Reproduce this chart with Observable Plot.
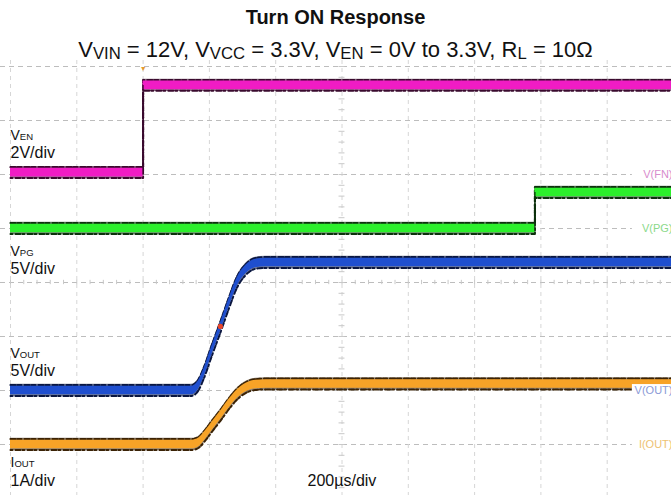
<!DOCTYPE html>
<html><head><meta charset="utf-8">
<script src="https://cdn.jsdelivr.net/npm/d3@7"></script>
<script src="https://cdn.jsdelivr.net/npm/@observablehq/plot@0.6"></script>
<style>
body{margin:0;background:#fff;font-family:"Liberation Sans",Arial,Helvetica,sans-serif;}
#wrap{position:relative;width:671px;height:495px;overflow:hidden;background:#fff;}
#title{position:absolute;z-index:2;left:0;top:7px;width:671px;text-align:center;font-weight:bold;font-size:20px;line-height:20px;color:#111;}
#sub{position:absolute;z-index:2;left:0;top:39px;width:671px;text-align:center;font-size:22px;line-height:21px;color:#111;white-space:nowrap;}
#sub span{font-size:0.76em;position:relative;top:0.14em;}
#chart{position:absolute;z-index:1;left:0;top:60px;}
</style></head>
<body><div id="wrap">
<div id="title">Turn ON Response</div>
<div id="sub">V<span>VIN</span> = 12V, V<span>VCC</span> = 3.3V, V<span>EN</span> = 0V to 3.3V, R<span>L</span> = 10Ω</div>
<div id="chart"></div>
</div>
<script>
// ---- data (time in µs relative to trigger; 200 µs/div) ----
const timeDomain = [-400, 1600];
const enTime = [-400, 0, 0, 1600];
const enVolt = [0.07, 0.07, 3.3, 3.3];
const pgTime = [-400, 1182, 1182, 1600];
const pgVolt = [0, 0, 3.33, 3.33];
const outTime = [-400, 146, 166, 184, 205, 234, 259, 283, 310, 339, 369, 1600];
const outVolt = [0, 0, 0.46, 1.67, 3.5, 5.93, 8.1, 10.0, 11.2, 11.76, 11.85, 11.85];
const ioutTime = [-400, 148, 168, 186, 207, 236, 261, 285, 312, 341, 371, 1600];
const ioutAmp = [0, 0, 0.04, 0.16, 0.33, 0.56, 0.77, 0.94, 1.06, 1.11, 1.12, 1.12];
const markerTime = [233];
const markerVolt = [5.93];
const channelTags = ["V(FN)", "V(PG)", "V(OUT)", "I(OUT)"];
const channelNames = ["V|EN", "V|PG", "V|OUT", "I|OUT"];
const channelScales = ["2V/div", "5V/div", "5V/div", "1A/div"];
const timeScaleLabel = "200µs/div";

// ---- scope settings (ground marker in divisions from top, units per division) ----
const ground = [2, 3, 6, 7];
const perDiv = [2, 5, 5, 1];
const coreCol = ["#f01cc4", "#2cef2c", "#1f4fcf", "#f7a327"];
const edgeCol = ["#3a0a2e", "#0d300d", "#0a1640", "#3a2205"];
const tagCol = ["#d88ccd", "#8ad98a", "#8a9ad6", "#eec272"];
const nameRow = [1.37, 3.50, 5.39, 7.42];
const scaleRow = [1.69, 3.84, 5.73, 7.77];
const tagBoxStart = 1476;

const series = [[enTime, enVolt], [pgTime, pgVolt], [outTime, outVolt], [ioutTime, ioutAmp]]
  .map(([ts, vs], i) => ts.map((t, j) => ({t, d: ground[i] - vs[j] / perDiv[i]})));

const outer = 6.2 / 54, inner = 4.3 / 54;
const curves = ["linear", "linear", "monotone-x", "monotone-x"];

const marks = [];
// grid
marks.push(Plot.ruleY(d3.range(0, 9), {stroke: "#bdbdbd", strokeDasharray: "5,4", strokeWidth: 1}));
marks.push(Plot.ruleX(d3.range(-400, 1601, 200), {stroke: "#d6d6d6", strokeDasharray: "4,4", strokeWidth: 1}));
marks.push(Plot.ruleX(d3.range(-400, 1601, 40), {y1: 4 - 0.04, y2: 4 + 0.04, stroke: "#c8c8c8"}));
marks.push(Plot.ruleY(d3.range(0, 8.01, 0.2), {x1: 591, x2: 609, stroke: "#c8c8c8"}));
// traces
series.forEach((rows, i) => {
  marks.push(Plot.areaY(rows, {x: "t", y1: r => r.d - outer, y2: r => r.d + outer, fill: edgeCol[i], fillOpacity: 0.55, curve: curves[i]}));
  marks.push(Plot.lineY(rows, {x: "t", y: r => r.d - outer + 0.015, stroke: edgeCol[i], strokeWidth: 2.2, strokeDasharray: "1,1,3,2,1,1,2,3", curve: curves[i]}));
  marks.push(Plot.lineY(rows, {x: "t", y: r => r.d + outer - 0.015, stroke: edgeCol[i], strokeWidth: 2, strokeDasharray: "2,3,1,1,3,2", curve: curves[i]}));
  marks.push(Plot.areaY(rows, {x: "t", y1: r => r.d - inner, y2: r => r.d + inner, fill: coreCol[i], curve: curves[i]}));
});
// step edges
[[enTime, enVolt, 0], [pgTime, pgVolt, 1]].forEach(([ts, vs, i]) => {
  marks.push(Plot.ruleX([ts[1]], {y1: ground[i] - vs[1] / perDiv[i] + 0.05, y2: ground[i] - vs[2] / perDiv[i], stroke: edgeCol[i], strokeWidth: 1.2}));
});
// cursor marker on VOUT
marks.push(Plot.dot(markerTime, {x: d => d, y: (d, i) => ground[2] - markerVolt[i] / perDiv[2], r: 2.6, fill: "#e8452a", stroke: "none"}));
// channel tags at right (on white boxes)
marks.push(Plot.rect(channelTags, {x1: tagBoxStart, x2: timeDomain[1], y1: (d, i) => ground[i] - 0.11, y2: (d, i) => ground[i] + 0.11, fill: "#fff"}));
marks.push(Plot.text(channelTags, {x: timeDomain[1], y: (d, i) => ground[i], text: d => d, textAnchor: "end", dx: -1, fill: (d, i) => tagCol[i], fontSize: 11, lineAnchor: "middle"}));
// trigger marker
marks.push(Plot.text([0], {x: d => d, y: 0, text: () => "▼", fill: "#e59a2e", fontSize: 7, lineAnchor: "top"}));
// channel labels
marks.push(Plot.text(channelNames, {x: timeDomain[0], y: (d, i) => nameRow[i], text: d => d, textAnchor: "start", lineAnchor: "bottom", fontSize: 14, fill: "#111"}));
marks.push(Plot.text(channelScales, {x: timeDomain[0], y: (d, i) => scaleRow[i], text: d => d, textAnchor: "start", lineAnchor: "bottom", fontSize: 16, fill: "#111"}));
marks.push(Plot.text([timeScaleLabel], {x: 496, y: scaleRow[3], text: d => d, textAnchor: "start", lineAnchor: "bottom", fontSize: 16, fill: "#111"}));

const svg = Plot.plot({
  width: 671, height: 435,
  marginTop: 0, marginBottom: 0, marginLeft: 0, marginRight: 0,
  x: {domain: timeDomain, range: [10, 673], axis: null},
  y: {domain: [0, 8], range: [6, 438], axis: null},
  style: {fontFamily: "Liberation Sans, Arial, sans-serif", background: "transparent", overflow: "hidden"},
  marks
});
// subscripts for channel names
d3.select(svg).selectAll("text").each(function () {
  const s = this.textContent;
  if (s.includes("|")) {
    const [a, b] = s.split("|");
    const el = d3.select(this);
    el.text(null);
    el.append("tspan").text(a);
    el.append("tspan").attr("font-size", "0.68em").text(b);
  }
});
document.getElementById("chart").appendChild(svg);
</script>
</body></html>
